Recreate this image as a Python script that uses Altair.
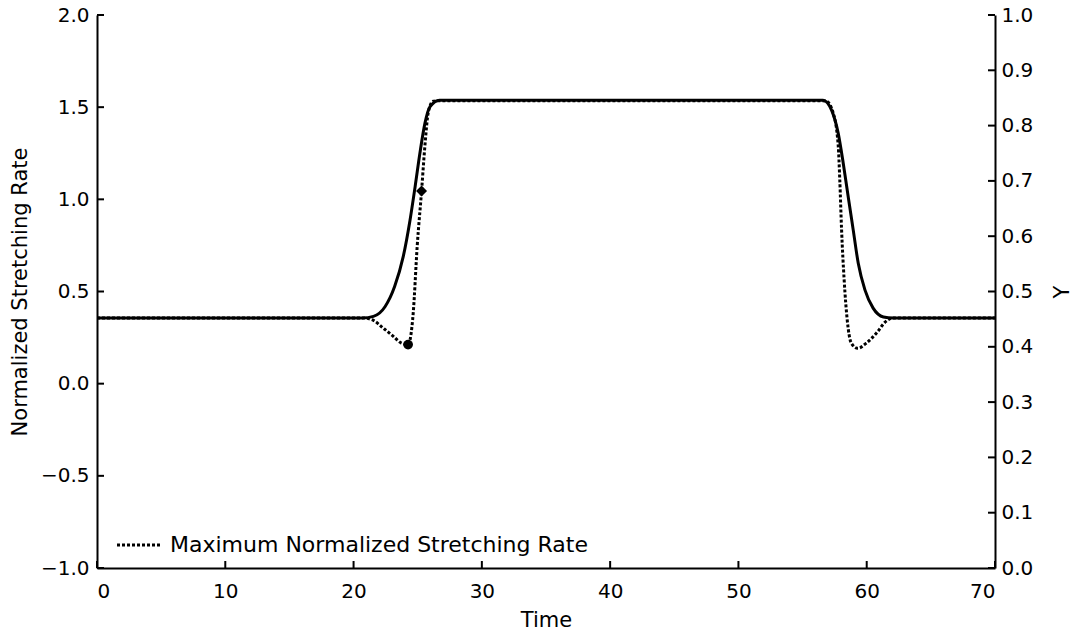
import altair as alt
import pandas as pd

# Maximum normalized stretching rate (left axis)
time_max = [0, 20.75, 21.55, 22.3, 23.1, 23.7, 24.25, 24.65, 24.96, 25.3, 25.56, 25.82,
            26.2, 26.8, 56.5, 56.86, 57.38, 57.78, 57.9, 58.04, 58.24, 58.48, 58.8,
            59.3, 59.97, 60.75, 61.5, 62.06, 63, 70]
rate_max = [0.356, 0.356, 0.343, 0.302, 0.257, 0.221, 0.212, 0.384, 0.746, 1.045, 1.29,
            1.47, 1.532, 1.535, 1.535, 1.532, 1.47, 1.29, 1.107, 0.836, 0.564, 0.346,
            0.220, 0.192, 0.220, 0.274, 0.338, 0.356, 0.356, 0.356]

# Y (right axis)
time_y = [0, 20.7, 21.55, 22.45, 23.2, 23.87, 24.4, 24.8, 25.17, 25.56, 25.95, 26.7,
          56.6, 57.26, 57.78, 58.17, 58.56, 58.95, 59.34, 59.86, 60.5, 61.3, 62.06, 70]
y_val = [0.452, 0.452, 0.455, 0.4725, 0.509, 0.563, 0.629, 0.690, 0.750, 0.804, 0.834,
         0.846, 0.846, 0.828, 0.786, 0.732, 0.671, 0.611, 0.551, 0.503, 0.470, 0.454,
         0.452, 0.452]

# Marked points on the stretching-rate curve
marker_time = [24.25, 25.3]
marker_rate = [0.212, 1.045]
marker_shape = ["circle", "diamond"]
marker_size = [95, 120]

x_ticks = [0, 10, 20, 30, 40, 50, 60, 70]
left_ticks = [-1.0, -0.5, 0.0, 0.5, 1.0, 1.5, 2.0]
right_ticks = [0.0, 0.1, 0.2, 0.3, 0.4, 0.5, 0.6, 0.7, 0.8, 0.9, 1.0]
legend_label = ["Maximum Normalized Stretching Rate"]

W, H = 898, 553
FONT = "DejaVu Sans"
LABEL_FS = 20
TITLE_FS = 21
LEGEND_FS = 22
TICK = 7

x_scale = alt.Scale(domain=[0, 70], nice=False, zero=False)
left_scale = alt.Scale(domain=[-1, 2], nice=False, zero=False)
right_scale = alt.Scale(domain=[0, 1], nice=False, zero=False)

x_axis = alt.Axis(values=x_ticks, format="d", title="Time", ticks=False,
                  labelPadding=13, titleX=W / 2, titleY=52,
                  titleBaseline="middle", titleAlign="center")
left_axis = alt.Axis(values=left_ticks, format=".1f", title="Normalized Stretching Rate",
                     orient="left", ticks=False, labelPadding=8,
                     titleX=-77, titleY=H / 2, titleAngle=270,
                     titleBaseline="middle", titleAlign="center")
right_axis = alt.Axis(values=right_ticks, format=".1f", title="Y", orient="right",
                      ticks=False, labelPadding=6,
                      titleX=67, titleY=H / 2, titleAngle=270,
                      titleBaseline="middle", titleAlign="center")


def xenc():
    return alt.X("time:Q", scale=x_scale, axis=x_axis)


def yleft():
    return alt.Y("value:Q", scale=left_scale, axis=left_axis)


def yright():
    return alt.Y("value:Q", scale=right_scale, axis=right_axis)


df_max = pd.DataFrame({"time": time_max, "value": rate_max})
df_y = pd.DataFrame({"time": time_y, "value": y_val})
df_mk = pd.DataFrame({"time": marker_time, "value": marker_rate,
                      "shape": marker_shape, "size": marker_size})
df_xt = pd.DataFrame({"time": x_ticks})
df_lt = pd.DataFrame({"value": left_ticks})
df_rt = pd.DataFrame({"value": right_ticks})
df_leg = pd.DataFrame({"label": legend_label})

dotted = alt.Chart(df_max).mark_line(
    color="black", strokeWidth=3, strokeDash=[3, 2], interpolate="monotone"
).encode(x=xenc(), y=yleft())

markers = alt.Chart(df_mk).mark_point(filled=True, color="black", opacity=1).encode(
    x=xenc(), y=yleft(),
    shape=alt.Shape("shape:N", scale=None, legend=None),
    size=alt.Size("size:Q", scale=None, legend=None),
)

x_tick_marks = alt.Chart(df_xt).mark_rule(color="black", strokeWidth=2).encode(
    x=xenc(), y=alt.value(H), y2=alt.value(H - TICK)
)

left_tick_marks = alt.Chart(df_lt).mark_rule(color="black", strokeWidth=2).encode(
    y=yleft(), x=alt.value(0), x2=alt.value(TICK)
)

legend_line = alt.Chart(df_leg).mark_rule(
    color="black", strokeWidth=3, strokeDash=[3, 2]
).encode(x=alt.value(20), x2=alt.value(65), y=alt.value(H - 23))

legend_text = alt.Chart(df_leg).mark_text(
    align="left", baseline="middle", font=FONT, fontSize=LEGEND_FS, color="black"
).encode(x=alt.value(73), y=alt.value(H - 23), text="label:N")

left_layer = alt.layer(dotted, markers, x_tick_marks, left_tick_marks,
                       legend_line, legend_text)

solid = alt.Chart(df_y).mark_line(
    color="black", strokeWidth=3, interpolate="monotone"
).encode(x=xenc(), y=yright())

right_tick_marks = alt.Chart(df_rt).mark_rule(color="black", strokeWidth=2).encode(
    y=yright(), x=alt.value(W - TICK), x2=alt.value(W)
)

right_layer = alt.layer(solid, right_tick_marks)

chart = alt.layer(left_layer, right_layer).resolve_scale(
    y="independent"
).properties(
    width=W, height=H,
    autosize="none",
    padding={"left": 97, "top": 15, "right": 86, "bottom": 68},
).configure_view(
    stroke=None
).configure_axis(
    grid=False,
    domainColor="black",
    domainWidth=2,
    labelFont=FONT,
    labelFontSize=LABEL_FS,
    labelColor="black",
    titleFont=FONT,
    titleFontSize=TITLE_FS,
    titleFontWeight="normal",
    titleColor="black",
)

chart.save("out.html", embed_options={"renderer": "svg", "actions": False})
